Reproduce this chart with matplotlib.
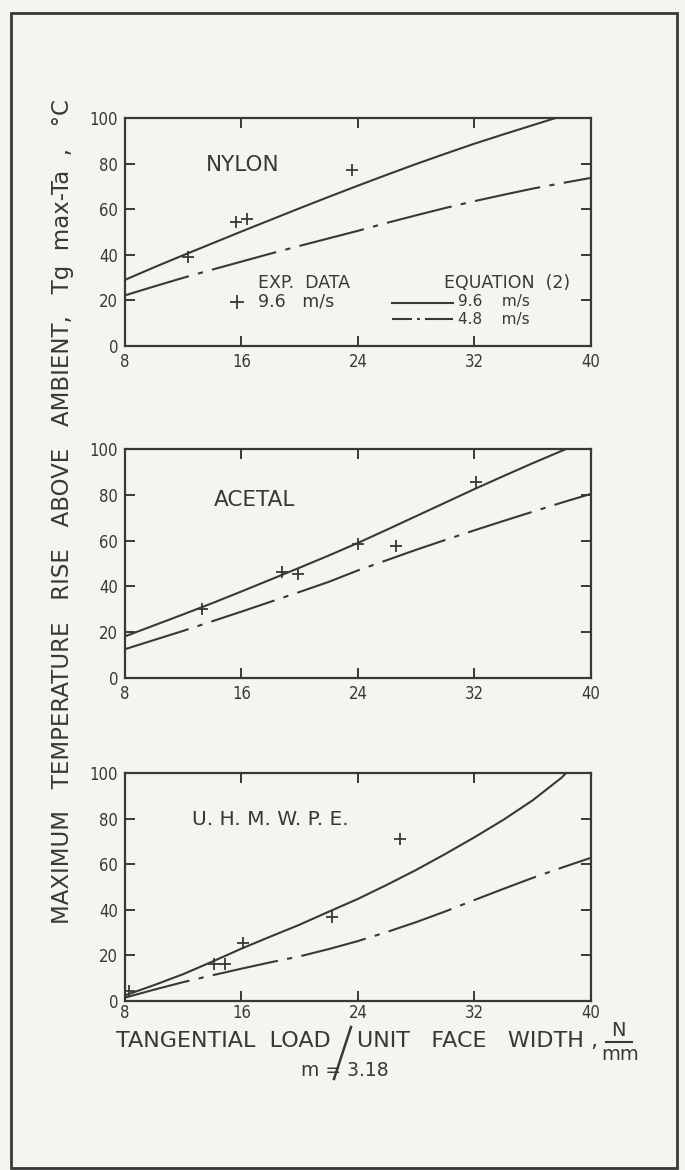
import matplotlib
matplotlib.use('Agg')
from matplotlib import pyplot as plt
from matplotlib.patches import Rectangle

INK = '#383838'
PAPER = '#f5f4ef'

plt.rcParams['font.family'] = ['DejaVu Sans']
plt.rcParams['font.stretch'] = 'condensed'

x_ticks = [8, 16, 24, 32, 40]
y_ticks = [0, 20, 40, 60, 80, 100]
load = [8, 10, 12, 14, 16, 18, 20, 22, 24, 26, 28, 30, 32, 34, 36, 38, 40]

# NYLON
nylon_load_96 = [8, 10, 12, 14, 16, 18, 20, 22, 24, 26, 28, 30, 32, 34, 36, 37.6]
nylon_temp_96 = [29, 34.5, 39.8, 45, 50.2, 55.3, 60.4, 65.4, 70.3, 75.1, 79.8, 84.3, 88.7, 92.8, 96.8, 100]
nylon_temp_48 = [22.2, 26.1, 29.9, 33.5, 37, 40.5, 43.9, 47.2, 50.5, 54, 57.3, 60.5, 63.5, 66.3, 69, 71.4, 73.7]
nylon_exp_load = [12.3, 15.6, 16.4, 23.6]
nylon_exp_temp = [39, 54.5, 55.8, 77.3]

# ACETAL
acetal_load_96 = [8, 10, 12, 14, 16, 18, 20, 22, 24, 26, 28, 30, 32, 34, 36, 38, 38.3]
acetal_temp_96 = [18.2, 23, 27.8, 32.7, 37.8, 43, 48.2, 53.5, 59, 64.8, 70.7, 76.6, 82.5, 88.2, 93.8, 99.2, 100]
acetal_temp_48 = [12.6, 16.6, 20.6, 24.8, 29, 33.3, 37.6, 42, 47, 51.5, 56, 60.3, 64.5, 68.6, 72.6, 76.6, 80.4]
acetal_exp_load = [13.3, 18.8, 19.9, 24.0, 26.6, 32.1]
acetal_exp_temp = [30, 46.5, 45.6, 58.5, 57.8, 85.4]

# U.H.M.W.P.E.
uhmwpe_load_96 = [8, 10, 12, 14, 16, 18, 20, 22, 24, 26, 28, 30, 32, 34, 36, 38, 38.3]
uhmwpe_temp_96 = [2.5, 7, 11.8, 17.3, 23, 28.3, 33.5, 39.2, 44.8, 51, 57.5, 64.5, 71.8, 79.5, 88, 98, 100]
uhmwpe_temp_48 = [1.5, 5, 8.3, 11.3, 14.2, 17, 19.6, 22.8, 26.3, 30.3, 34.6, 39.3, 44.3, 49.2, 54, 58.5, 62.8]
uhmwpe_exp_load = [8.3, 14.1, 14.9, 16.1, 22.2, 26.9]
uhmwpe_exp_temp = [4.5, 16.2, 16.2, 25.4, 36.7, 71.1]

DASHDOT = (32, 4.5, 2.5, 4.5)


def style_axes(ax, pad):
    ax.set_facecolor(PAPER)
    ax.set_xlim(8, 40)
    ax.set_ylim(0, 100)
    ax.set_xticks(x_ticks)
    ax.set_yticks(y_ticks)
    ax.tick_params(direction='in', length=7, width=1.4, top=True, right=True,
                   colors=INK, labelsize=12, pad=pad)
    ax.tick_params(axis='y', pad=5)
    for spine in ax.spines.values():
        spine.set_linewidth(1.6)
        spine.set_color(INK)


def draw_panel(ax, name, name_pos, name_size, load_96, temp_96, temp_48, exp_load, exp_temp, pad):
    style_axes(ax, pad)
    ax.plot(load_96, temp_96, color=INK, lw=1.5)
    ax.plot(load, temp_48, color=INK, lw=1.5, dashes=DASHDOT)
    ax.plot(exp_load, exp_temp, '+', color=INK, ms=9, mew=1.3)
    ax.text(name_pos[0], name_pos[1], name, transform=ax.transAxes, ha='center', va='center',
            fontsize=name_size, fontstretch='normal', color=INK)


fig = plt.figure(figsize=(6.85, 11.7), dpi=100, facecolor=PAPER)

ax1 = fig.add_axes([0.1825, 0.7043, 0.680, 0.1949])
ax2 = fig.add_axes([0.1825, 0.4205, 0.680, 0.1957])
ax3 = fig.add_axes([0.1825, 0.1444, 0.680, 0.1949])

draw_panel(ax1, 'NYLON', (0.253, 0.794), 15.5, nylon_load_96, nylon_temp_96, nylon_temp_48,
           nylon_exp_load, nylon_exp_temp, 5)
draw_panel(ax2, 'ACETAL', (0.278, 0.777), 15.5, acetal_load_96, acetal_temp_96, acetal_temp_48,
           acetal_exp_load, acetal_exp_temp, 5)
draw_panel(ax3, 'U. H. M. W. P. E.', (0.311, 0.794), 14.5, uhmwpe_load_96, uhmwpe_temp_96, uhmwpe_temp_48,
           uhmwpe_exp_load, uhmwpe_exp_temp, 2)

# hand-drawn legend inside the nylon panel
legend_font = dict(fontsize=12.5, fontstretch='normal', color=INK, va='center')
small_font = dict(fontsize=11, fontstretch='normal', color=INK, va='center')
ax1.text(0.285, 0.275, 'EXP.  DATA', transform=ax1.transAxes, ha='left', **legend_font)
ax1.plot([0.240], [0.194], '+', transform=ax1.transAxes, color=INK, ms=10, mew=1.3)
ax1.text(0.285, 0.194, '9.6   m/s', transform=ax1.transAxes, ha='left', **legend_font)
ax1.text(0.82, 0.275, 'EQUATION  (2)', transform=ax1.transAxes, ha='center', **legend_font)
ax1.plot([0.573, 0.704], [0.190, 0.190], transform=ax1.transAxes, color=INK, lw=1.5)
ax1.text(0.715, 0.194, '9.6    m/s', transform=ax1.transAxes, ha='left', **small_font)
ax1.plot([0.573, 0.704], [0.118, 0.118], transform=ax1.transAxes, color=INK, lw=1.5,
         dashes=(9.6, 2.4, 1.4, 2.4, 40, 1))
ax1.text(0.715, 0.114, '4.8    m/s', transform=ax1.transAxes, ha='left', **small_font)

fig.text(63 / 685, 1 - 512 / 1170,
         'MAXIMUM   TEMPERATURE   RISE   ABOVE   AMBIENT,   Tg  max-Ta  ,   °C',
         rotation=90, ha='center', va='center', fontsize=16.5, fontstretch='normal', color=INK)

label_font = dict(fontsize=16, fontstretch='normal', color=INK, va='center')
fig.text(116 / 685, 1 - 1041 / 1170, 'TANGENTIAL  LOAD', ha='left', **label_font)
fig.add_artist(plt.Line2D([334 / 685, 351 / 685], [1 - 1079 / 1170, 1 - 1027 / 1170],
                          color=INK, lw=1.8))
fig.text(598 / 685, 1 - 1041 / 1170, 'UNIT   FACE   WIDTH ,', ha='right', **label_font)
fig.text(618 / 685, 1 - 1030 / 1170, 'N', ha='center', va='center', fontsize=14,
         fontstretch='normal', color=INK)
fig.add_artist(plt.Line2D([606 / 685, 632 / 685], [1 - 1042 / 1170, 1 - 1042 / 1170],
                          color=INK, lw=1.5))
fig.text(620 / 685, 1 - 1054 / 1170, 'mm', ha='center', va='center', fontsize=14,
         fontstretch='normal', color=INK)
fig.text(345 / 685, 1 - 1071 / 1170, 'm = 3.18', ha='center', va='center', fontsize=13.5,
         fontstretch='normal', color=INK)

fig.add_artist(Rectangle((11 / 685, 2 / 1170), 666 / 685, 1155 / 1170, transform=fig.transFigure,
                         fill=False, edgecolor=INK, lw=2))

fig.savefig('out.png', dpi=100, facecolor=PAPER)
